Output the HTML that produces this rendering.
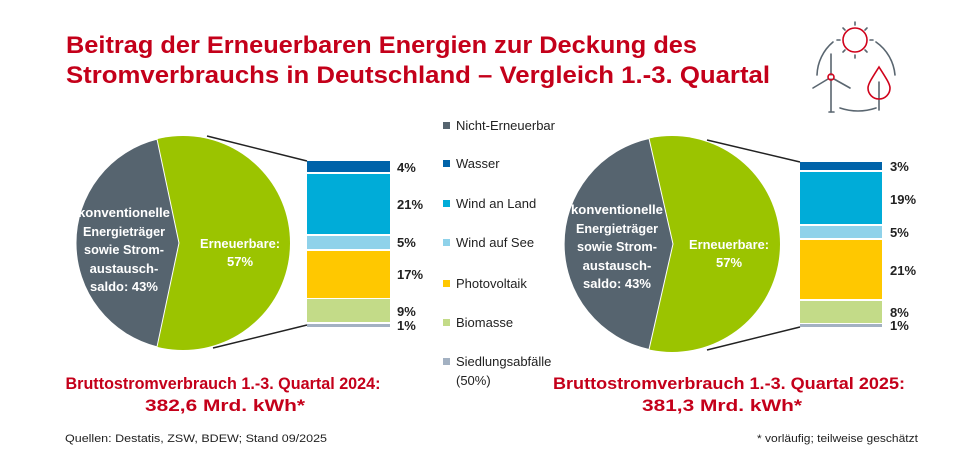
<!DOCTYPE html>
<html><head><meta charset="utf-8"><style>
html,body{margin:0;padding:0;background:#fff;}
svg{display:block;}
text{font-family:"Liberation Sans",sans-serif;}
</style></head><body>
<svg width="965" height="469" viewBox="0 0 965 469" xmlns="http://www.w3.org/2000/svg">
<rect width="965" height="469" fill="#fff"/>
<text x="66" y="53" font-size="24" font-weight="bold" fill="#c4001a" textLength="631" lengthAdjust="spacingAndGlyphs">Beitrag der Erneuerbaren Energien zur Deckung des</text>
<text x="66" y="83" font-size="24" font-weight="bold" fill="#c4001a" textLength="704" lengthAdjust="spacingAndGlyphs">Stromverbrauchs in Deutschland – Vergleich 1.-3. Quartal</text>

<g fill="none" stroke-linecap="round">
 <circle cx="855" cy="40" r="12" stroke="#d0021b" stroke-width="1.6"/>
 <g stroke="#5a6670" stroke-width="1.6">
  <line x1="855" y1="22" x2="855" y2="25"/><line x1="855" y1="55" x2="855" y2="58"/>
  <line x1="837" y1="40" x2="840" y2="40"/><line x1="870" y1="40" x2="873" y2="40"/>
  <line x1="843" y1="28" x2="845" y2="30"/><line x1="865" y1="50" x2="867" y2="52"/>
  <line x1="867" y1="28" x2="865" y2="30"/><line x1="843" y1="52" x2="845" y2="50"/>
  <path d="M817 75 A45 45 0 0 1 833 42"/>
  <path d="M876 42 A45 45 0 0 1 895 75"/>
  <path d="M840 108 Q858 114 876 108"/>
  <line x1="831" y1="79" x2="831" y2="112"/>
  <line x1="829" y1="112" x2="834" y2="112"/>
  <line x1="831" y1="75" x2="831" y2="54"/>
  <line x1="828" y1="79" x2="813" y2="88"/>
  <line x1="834" y1="79" x2="850" y2="88"/>
  <line x1="879" y1="82" x2="879" y2="110"/>
 </g>
 <circle cx="831" cy="77" r="3" stroke="#d0021b" stroke-width="1.6"/>
 <path d="M879 67 C872 78 868 84 868 88 A11 11 0 0 0 890 88 C890 84 886 78 879 67 Z" stroke="#d0021b" stroke-width="1.6"/>
</g>

<circle cx="183" cy="243" r="107" fill="#9bc400"/>
<path d="M157 139.2 A107 107 0 0 0 157 346.8 L179 243 Z" fill="#56646f" stroke="#fff" stroke-width="1"/>
<line x1="207" y1="136" x2="307" y2="161" stroke="#222" stroke-width="1.5"/>
<line x1="213" y1="348" x2="307" y2="325" stroke="#222" stroke-width="1.5"/>
<g font-size="13" font-weight="bold" fill="#fff" text-anchor="middle">
 <text x="124" y="217" textLength="92" lengthAdjust="spacingAndGlyphs">konventionelle</text>
 <text x="124" y="236" textLength="82" lengthAdjust="spacingAndGlyphs">Energieträger</text>
 <text x="124" y="254" textLength="80" lengthAdjust="spacingAndGlyphs">sowie Strom-</text>
 <text x="124" y="273">austausch-</text>
 <text x="124" y="291">saldo: 43%</text>
 <text x="240" y="248" textLength="80" lengthAdjust="spacingAndGlyphs">Erneuerbare:</text>
 <text x="240" y="266">57%</text>
</g>
<rect x="307" y="161" width="83" height="11" fill="#0063a9"/>
<rect x="307" y="174" width="83" height="60" fill="#00acd8"/>
<rect x="307" y="236" width="83" height="13" fill="#8fd2ea"/>
<rect x="307" y="251" width="83" height="47" fill="#ffc800"/>
<rect x="307" y="299" width="83" height="23" fill="#c3db88"/>
<rect x="307" y="324" width="83" height="3" fill="#a3b1c2"/>
<g font-size="13" font-weight="bold" fill="#222">
 <text x="397" y="172">4%</text>
 <text x="397" y="209">21%</text>
 <text x="397" y="247">5%</text>
 <text x="397" y="279">17%</text>
 <text x="397" y="316">9%</text>
 <text x="397" y="330">1%</text>
</g>

<g font-size="13" fill="#222">
 <rect x="443" y="122" width="7" height="7" fill="#56646f"/><text x="456" y="130">Nicht-Erneuerbar</text>
 <rect x="443" y="160" width="7" height="7" fill="#0063a9"/><text x="456" y="168">Wasser</text>
 <rect x="443" y="200" width="7" height="7" fill="#00acd8"/><text x="456" y="208">Wind an Land</text>
 <rect x="443" y="239" width="7" height="7" fill="#8fd2ea"/><text x="456" y="247">Wind auf See</text>
 <rect x="443" y="280" width="7" height="7" fill="#ffc800"/><text x="456" y="288">Photovoltaik</text>
 <rect x="443" y="319" width="7" height="7" fill="#c3db88"/><text x="456" y="327">Biomasse</text>
 <rect x="443" y="358" width="7" height="7" fill="#a3b1c2"/><text x="456" y="366">Siedlungsabfälle</text>
 <text x="456" y="385">(50%)</text>
</g>

<circle cx="672" cy="244" r="108" fill="#9bc400"/>
<path d="M649 138.5 A108 108 0 0 0 649 349.5 L673 244 Z" fill="#56646f" stroke="#fff" stroke-width="1"/>
<line x1="707" y1="140" x2="800" y2="162" stroke="#222" stroke-width="1.5"/>
<line x1="707" y1="350" x2="800" y2="327" stroke="#222" stroke-width="1.5"/>
<g font-size="13" font-weight="bold" fill="#fff" text-anchor="middle">
 <text x="617" y="214" textLength="92" lengthAdjust="spacingAndGlyphs">konventionelle</text>
 <text x="617" y="233" textLength="82" lengthAdjust="spacingAndGlyphs">Energieträger</text>
 <text x="617" y="251" textLength="80" lengthAdjust="spacingAndGlyphs">sowie Strom-</text>
 <text x="617" y="270">austausch-</text>
 <text x="617" y="288">saldo: 43%</text>
 <text x="729" y="249" textLength="80" lengthAdjust="spacingAndGlyphs">Erneuerbare:</text>
 <text x="729" y="267">57%</text>
</g>
<rect x="800" y="162" width="82" height="8" fill="#0063a9"/>
<rect x="800" y="172" width="82" height="52" fill="#00acd8"/>
<rect x="800" y="226" width="82" height="12" fill="#8fd2ea"/>
<rect x="800" y="240" width="82" height="59" fill="#ffc800"/>
<rect x="800" y="301" width="82" height="22" fill="#c3db88"/>
<rect x="800" y="324" width="82" height="3" fill="#a3b1c2"/>
<g font-size="13" font-weight="bold" fill="#222">
 <text x="890" y="171">3%</text>
 <text x="890" y="204">19%</text>
 <text x="890" y="237">5%</text>
 <text x="890" y="275">21%</text>
 <text x="890" y="317">8%</text>
 <text x="890" y="330">1%</text>
</g>

<g font-size="17" font-weight="bold" fill="#c4001a" text-anchor="middle">
 <text x="223" y="389" textLength="315" lengthAdjust="spacingAndGlyphs">Bruttostromverbrauch 1.-3. Quartal 2024:</text>
 <text x="225" y="411" textLength="160" lengthAdjust="spacingAndGlyphs">382,6 Mrd. kWh*</text>
 <text x="729" y="389" textLength="352" lengthAdjust="spacingAndGlyphs">Bruttostromverbrauch 1.-3. Quartal 2025:</text>
 <text x="722" y="411" textLength="160" lengthAdjust="spacingAndGlyphs">381,3 Mrd. kWh*</text>
</g>
<text x="65" y="442" font-size="11" fill="#222" textLength="262" lengthAdjust="spacingAndGlyphs">Quellen: Destatis, ZSW, BDEW; Stand 09/2025</text>
<text x="918" y="442" font-size="11" fill="#222" text-anchor="end" textLength="161" lengthAdjust="spacingAndGlyphs">* vorläufig; teilweise geschätzt</text>
</svg>
</body></html>
